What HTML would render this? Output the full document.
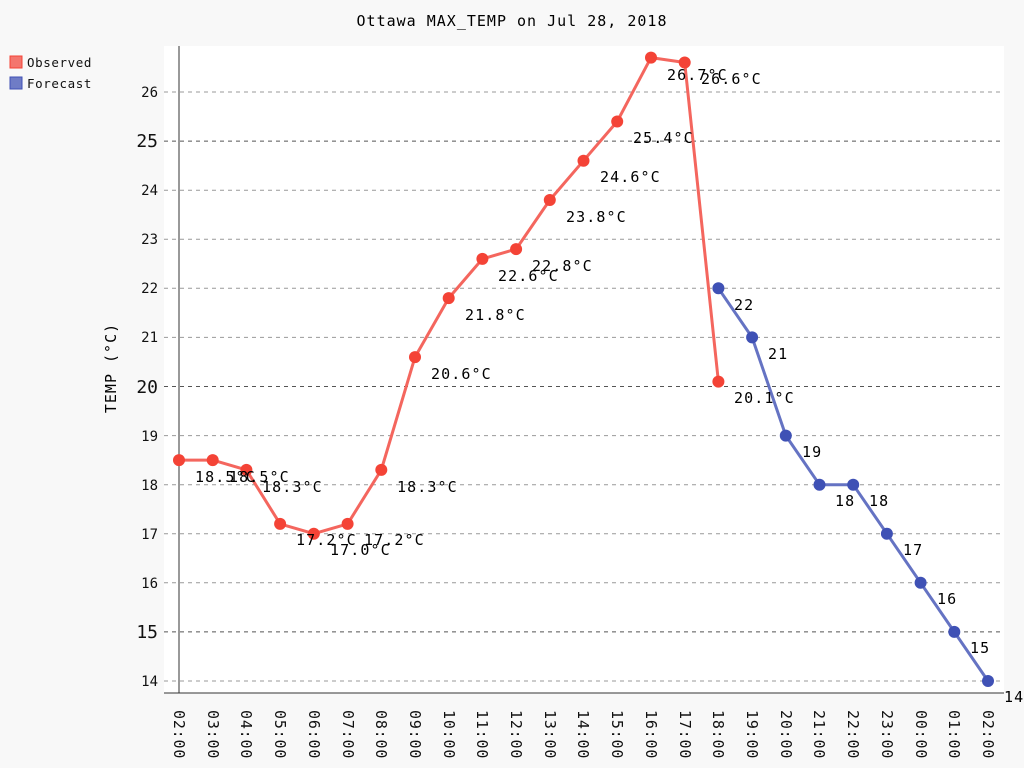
<!DOCTYPE html>
<html><head><meta charset="utf-8"><style>body{margin:0;background:#f8f8f8}svg{display:block}text{font-family:"DejaVu Sans Mono","Liberation Mono",monospace}</style></head><body>
<svg width="1024" height="768" viewBox="0 0 1024 768" xmlns="http://www.w3.org/2000/svg">
<rect width="1024" height="768" fill="#f8f8f8"/>
<rect x="164" y="46" width="840" height="647" fill="#fff"/>
<text x="512" y="26" text-anchor="middle" font-size="15" letter-spacing="1" fill="#000">Ottawa MAX_TEMP on Jul 28, 2018</text>
<rect x="10" y="56" width="12" height="12" fill="#f4766e" stroke="#f44336" stroke-width="1"/>
<text x="27" y="67" font-size="12.5" letter-spacing="0.6" fill="#111">Observed</text>
<rect x="10" y="77" width="12" height="12" fill="#6f7cc6" stroke="#3f51b5" stroke-width="1"/>
<text x="27" y="88" font-size="12.5" letter-spacing="0.6" fill="#111">Forecast</text>
<text transform="translate(116,368) rotate(-90)" text-anchor="middle" font-size="15" letter-spacing="1" fill="#000">TEMP (°C)</text>
<g stroke-dasharray="4,4" stroke-width="1">
<line x1="164" x2="1004" y1="92" y2="92" stroke="#999"/>
<line x1="164" x2="1004" y1="141.1" y2="141.1" stroke="#555"/>
<line x1="164" x2="1004" y1="190.2" y2="190.2" stroke="#999"/>
<line x1="164" x2="1004" y1="239.2" y2="239.2" stroke="#999"/>
<line x1="164" x2="1004" y1="288.3" y2="288.3" stroke="#999"/>
<line x1="164" x2="1004" y1="337.4" y2="337.4" stroke="#999"/>
<line x1="164" x2="1004" y1="386.5" y2="386.5" stroke="#555"/>
<line x1="164" x2="1004" y1="435.6" y2="435.6" stroke="#999"/>
<line x1="164" x2="1004" y1="484.7" y2="484.7" stroke="#999"/>
<line x1="164" x2="1004" y1="533.7" y2="533.7" stroke="#999"/>
<line x1="164" x2="1004" y1="582.8" y2="582.8" stroke="#999"/>
<line x1="164" x2="1004" y1="631.9" y2="631.9" stroke="#555"/>
<line x1="164" x2="1004" y1="681" y2="681" stroke="#999"/>
</g>
<line x1="179" x2="179" y1="46" y2="693" stroke="#333"/>
<line x1="164" x2="1004" y1="693" y2="693" stroke="#333"/>
<g font-size="14" text-anchor="end" fill="#111">
<text x="158" y="97">26</text><text x="158" y="147" font-size="18">25</text><text x="158" y="195">24</text><text x="158" y="244">23</text><text x="158" y="293">22</text><text x="158" y="342">21</text><text x="158" y="393" font-size="18">20</text><text x="158" y="441">19</text><text x="158" y="490">18</text><text x="158" y="539">17</text><text x="158" y="588">16</text><text x="158" y="638" font-size="18">15</text><text x="158" y="686">14</text>
</g>
<g font-size="15" letter-spacing="0.8" fill="#111">
<text transform="translate(174,710) rotate(90)">02:00</text>
<text transform="translate(208,710) rotate(90)">03:00</text>
<text transform="translate(241,710) rotate(90)">04:00</text>
<text transform="translate(275,710) rotate(90)">05:00</text>
<text transform="translate(309,710) rotate(90)">06:00</text>
<text transform="translate(343,710) rotate(90)">07:00</text>
<text transform="translate(376,710) rotate(90)">08:00</text>
<text transform="translate(410,710) rotate(90)">09:00</text>
<text transform="translate(444,710) rotate(90)">10:00</text>
<text transform="translate(477,710) rotate(90)">11:00</text>
<text transform="translate(511,710) rotate(90)">12:00</text>
<text transform="translate(545,710) rotate(90)">13:00</text>
<text transform="translate(578,710) rotate(90)">14:00</text>
<text transform="translate(612,710) rotate(90)">15:00</text>
<text transform="translate(646,710) rotate(90)">16:00</text>
<text transform="translate(680,710) rotate(90)">17:00</text>
<text transform="translate(713,710) rotate(90)">18:00</text>
<text transform="translate(747,710) rotate(90)">19:00</text>
<text transform="translate(781,710) rotate(90)">20:00</text>
<text transform="translate(814,710) rotate(90)">21:00</text>
<text transform="translate(848,710) rotate(90)">22:00</text>
<text transform="translate(882,710) rotate(90)">23:00</text>
<text transform="translate(916,710) rotate(90)">00:00</text>
<text transform="translate(949,710) rotate(90)">01:00</text>
<text transform="translate(983,710) rotate(90)">02:00</text>
</g>
<polyline fill="none" stroke="#f4665e" stroke-width="3" stroke-linejoin="round" points="179,460.1 212.7,460.1 246.4,469.9 280.1,523.9 313.8,533.7 347.6,523.9 381.3,469.9 415,357.1 448.7,298.1 482.4,258.9 516.1,249.1 549.8,200 583.5,160.7 617.2,121.5 651,57.6 684.7,62.5 718.4,381.6"/>
<polyline fill="none" stroke="#6573c3" stroke-width="3" stroke-linejoin="round" points="718.4,288.3 752.1,337.4 785.8,435.6 819.5,484.7 853.2,484.7 886.9,533.7 920.6,582.8 954.3,631.9 988,681"/>
<g fill="#f44336">
<circle cx="179" cy="460.1" r="6"/><circle cx="212.7" cy="460.1" r="6"/><circle cx="246.4" cy="469.9" r="6"/><circle cx="280.1" cy="523.9" r="6"/><circle cx="313.8" cy="533.7" r="6"/><circle cx="347.6" cy="523.9" r="6"/><circle cx="381.3" cy="469.9" r="6"/><circle cx="415" cy="357.1" r="6"/><circle cx="448.7" cy="298.1" r="6"/><circle cx="482.4" cy="258.9" r="6"/><circle cx="516.1" cy="249.1" r="6"/><circle cx="549.8" cy="200" r="6"/><circle cx="583.5" cy="160.7" r="6"/><circle cx="617.2" cy="121.5" r="6"/><circle cx="651" cy="57.6" r="6"/><circle cx="684.7" cy="62.5" r="6"/><circle cx="718.4" cy="381.6" r="6"/>
</g>
<g fill="#3f51b5">
<circle cx="718.4" cy="288.3" r="6"/><circle cx="752.1" cy="337.4" r="6"/><circle cx="785.8" cy="435.6" r="6"/><circle cx="819.5" cy="484.7" r="6"/><circle cx="853.2" cy="484.7" r="6"/><circle cx="886.9" cy="533.7" r="6"/><circle cx="920.6" cy="582.8" r="6"/><circle cx="954.3" cy="631.9" r="6"/><circle cx="988" cy="681" r="6"/>
</g>
<g font-size="15" letter-spacing="1.1" fill="#000">
<text x="195" y="482">18.5°C</text><text x="229" y="482">18.5°C</text><text x="262" y="492">18.3°C</text><text x="296" y="545">17.2°C</text><text x="330" y="555">17.0°C</text><text x="364" y="545">17.2°C</text><text x="397" y="492">18.3°C</text><text x="431" y="379">20.6°C</text><text x="465" y="320">21.8°C</text><text x="498" y="281">22.6°C</text><text x="532" y="271">22.8°C</text><text x="566" y="222">23.8°C</text><text x="600" y="182">24.6°C</text><text x="633" y="143">25.4°C</text><text x="667" y="80">26.7°C</text><text x="701" y="84">26.6°C</text><text x="734" y="403">20.1°C</text>
<text x="734" y="310">22</text><text x="768" y="359">21</text><text x="802" y="457">19</text><text x="835" y="506">18</text><text x="869" y="506">18</text><text x="903" y="555">17</text><text x="937" y="604">16</text><text x="970" y="653">15</text><text x="1004" y="702">14</text>
</g>
</svg>
</body></html>
